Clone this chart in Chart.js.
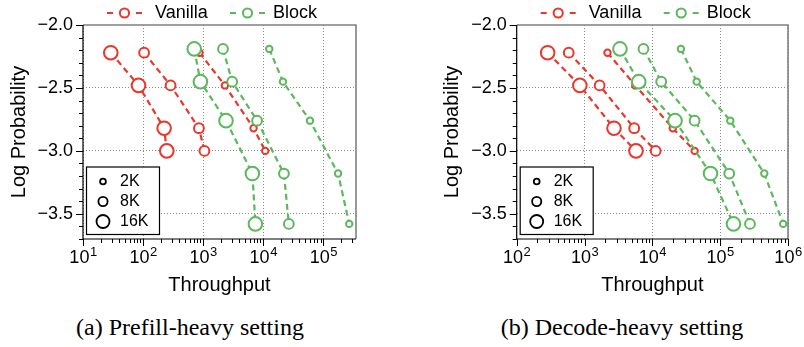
<!DOCTYPE html>
<html>
<head>
<meta charset="utf-8">
<script src="https://cdn.jsdelivr.net/npm/chart.js@4.4.1/dist/chart.umd.min.js"></script>
<style>
  body { margin: 0; background: #fff; }
  #wrap { position: relative; width: 804px; height: 347px; background: #fff; overflow: hidden; }
  canvas { position: absolute; top: 0; }
  .cap { position: absolute; top: 315px; font: 24px 'Liberation Serif', 'Times New Roman', serif; line-height: 24px; color: #000; white-space: nowrap; transform: translateX(-50%); }
</style>
</head>
<body>
<div id="wrap">
  <canvas id="prefill" width="400" height="300" style="left:0"></canvas>
  <canvas id="decode" width="404" height="300" style="left:400px"></canvas>
  <div class="cap" style="left:190px">(a) Prefill-heavy setting</div>
  <div class="cap" style="left:622px">(b) Decode-heavy setting</div>
</div>
<script>
// context sizes and series names
const sizeLabels = ['2K', '8K', '16K'];
const seriesNames = ['Vanilla', 'Block'];

// y values (log probability) shared by both panels
const vanillaLogProb = [-2.22, -2.48, -2.82, -3.0];
const blockLogProb = [-2.19, -2.45, -2.76, -3.18, -3.58];

// (a) prefill-heavy throughput
const prefillVanilla2K = [870, 2300, 6900, 10800];
const prefillVanilla8K = [104, 287, 850, 1050];
const prefillVanilla16K = [29, 84, 224, 248];
const prefillBlock2K = [12600, 21300, 60000, 176000, 270000];
const prefillBlock8K = [2140, 3040, 7900, 22100, 26700];
const prefillBlock16K = [710, 900, 2400, 6600, 7400];

// (b) decode-heavy throughput
const decodeVanilla2K = [2180, 5600, 20000, 42000];
const decodeVanilla8K = [585, 1670, 5400, 11200];
const decodeVanilla16K = [286, 853, 2720, 5740];
const decodeBlock2K = [26400, 45000, 141000, 447000, 850000];
const decodeBlock8K = [7400, 13500, 42000, 136000, 275000];
const decodeBlock16K = [3330, 6300, 21600, 72000, 157000];

const RED = '#e8372d';
const GREEN = '#5cb85c';
const RADII = [3.2, 4.9, 6.8];
const FONT = "'Liberation Sans', Arial, Helvetica, sans-serif";

const isDecade = v => Math.abs(Math.log10(v) - Math.round(Math.log10(v))) < 1e-9;
const isHalf = v => Math.abs(v * 2 - Math.round(v * 2)) < 1e-6;

function logTicks(min, max) {
  const out = [];
  for (let e = Math.floor(Math.log10(min)); e <= Math.ceil(Math.log10(max)); e++) {
    for (let k = 1; k < 10; k++) {
      const v = k * Math.pow(10, e);
      if (v >= min * 0.999 && v <= max * 1.001) out.push(v);
    }
  }
  return out;
}

function points(xs, ys) {
  return xs.map((x, i) => ({ x: x, y: ys[i] }));
}

function series(label, xs, ys, color, size, order) {
  return {
    label: label,
    data: points(xs, ys),
    showLine: true,
    borderColor: color,
    borderWidth: 2.2,
    borderDash: [6, 4],
    pointRadius: RADII[size],
    pointBorderWidth: 2,
    pointBorderColor: color,
    pointBackgroundColor: '#fff',
    fill: false,
    order: order
  };
}

const decor = {
  id: 'decor',
  afterDraw(chart) {
    const { ctx, chartArea: a, scales: { x, y } } = chart;
    ctx.save();

    // frame
    ctx.strokeStyle = '#808080';
    ctx.lineWidth = 1.6;
    ctx.beginPath();
    ctx.moveTo(a.left, a.top);
    ctx.lineTo(a.right, a.top);
    ctx.lineTo(a.right, a.bottom);
    ctx.stroke();
    ctx.strokeStyle = '#000';
    ctx.lineWidth = 1.2;
    ctx.beginPath();
    ctx.moveTo(a.left, a.top);
    ctx.lineTo(a.left, a.bottom);
    ctx.lineTo(a.right, a.bottom);
    ctx.stroke();

    // tick marks
    ctx.lineWidth = 1;
    x.ticks.forEach(t => {
      const px = Math.round(x.getPixelForValue(t.value)) + 0.5;
      const len = isDecade(t.value) ? 7 : 4;
      ctx.beginPath();
      ctx.moveTo(px, a.bottom);
      ctx.lineTo(px, a.bottom + len);
      ctx.stroke();
    });
    y.ticks.forEach(t => {
      const py = Math.round(y.getPixelForValue(t.value)) + 0.5;
      const len = isHalf(t.value) ? 7 : 4;
      ctx.beginPath();
      ctx.moveTo(a.left, py);
      ctx.lineTo(a.left - len, py);
      ctx.stroke();
    });

    // x labels 10^n
    ctx.fillStyle = '#000';
    ctx.textBaseline = 'alphabetic';
    ctx.textAlign = 'left';
    x.ticks.filter(t => isDecade(t.value)).forEach(t => {
      const px = x.getPixelForValue(t.value);
      const exp = String(Math.round(Math.log10(t.value)));
      ctx.font = '18px ' + FONT;
      const wb = ctx.measureText('10').width;
      ctx.font = '13px ' + FONT;
      const we = ctx.measureText(exp).width;
      const start = px - (wb + we) / 2;
      ctx.font = '18px ' + FONT;
      ctx.fillText('10', start, a.bottom + 24);
      ctx.font = '13px ' + FONT;
      ctx.fillText(exp, start + wb + 0.5, a.bottom + 17);
    });

    // top legend
    const legendY = 13;
    const items = [
      { name: seriesNames[0], color: RED, sx: 24, tx: 72 },
      { name: seriesNames[1], color: GREEN, sx: 147, tx: 190 }
    ];
    items.forEach(it => {
      const sx = a.left + it.sx;
      ctx.strokeStyle = it.color;
      ctx.lineWidth = 2.2;
      ctx.beginPath();
      ctx.moveTo(sx, legendY); ctx.lineTo(sx + 6, legendY);
      ctx.moveTo(sx + 29, legendY); ctx.lineTo(sx + 35, legendY);
      ctx.stroke();
      ctx.lineWidth = 2;
      ctx.fillStyle = '#fff';
      ctx.beginPath();
      ctx.arc(sx + 17.5, legendY, 4.6, 0, Math.PI * 2);
      ctx.fill();
      ctx.stroke();
      ctx.fillStyle = '#000';
      ctx.font = '18px ' + FONT;
      ctx.textBaseline = 'middle';
      ctx.fillText(it.name, a.left + it.tx, legendY + 0.5);
    });

    // size legend
    const bx = a.left + 3.5;
    const bb = a.bottom - 4.5;
    const bt = bb - 67.5;
    ctx.fillStyle = '#fff';
    ctx.fillRect(bx, bt, 73, 67.5);
    ctx.strokeStyle = '#000';
    ctx.lineWidth = 1.2;
    ctx.strokeRect(bx, bt, 73, 67.5);
    sizeLabels.forEach((lab, i) => {
      const cy = bt + 14.5 + i * 20;
      ctx.lineWidth = 1.8;
      ctx.beginPath();
      ctx.arc(a.left + 20, cy, RADII[i] - 0.3, 0, Math.PI * 2);
      ctx.stroke();
      ctx.fillStyle = '#000';
      ctx.font = '16px ' + FONT;
      ctx.textBaseline = 'middle';
      ctx.fillText(lab, a.left + 37, cy + 0.5);
    });

    ctx.restore();
  }
};

function buildChart(id, opts) {
  const datasets = [];
  opts.vanilla.forEach((xs, i) => datasets.push(series(seriesNames[0] + ' ' + sizeLabels[i], xs, vanillaLogProb, RED, i, 1)));
  opts.block.forEach((xs, i) => datasets.push(series(seriesNames[1] + ' ' + sizeLabels[i], xs, blockLogProb, GREEN, i, 0)));

  const xTicks = logTicks(opts.xMin, opts.xMax);

  return new Chart(document.getElementById(id).getContext('2d'), {
    type: 'scatter',
    data: { datasets: datasets },
    plugins: [decor],
    options: {
      responsive: false,
      animation: false,
      devicePixelRatio: 1,
      layout: { padding: { left: opts.padLeft, right: opts.padRight, top: 25, bottom: 0 } },
      plugins: { legend: { display: false }, tooltip: { enabled: false } },
      scales: {
        x: {
          type: 'logarithmic',
          min: opts.xMin,
          max: opts.xMax,
          afterBuildTicks: s => { s.ticks = xTicks.map(v => ({ value: v })); },
          afterFit: s => { s.height = 61; },
          ticks: { autoSkip: false, maxRotation: 0, callback: () => '' },
          grid: {
            color: c => (c.tick && isDecade(c.tick.value)) ? '#8a8a8a' : 'rgba(0,0,0,0)',
            lineWidth: 1,
            drawTicks: false
          },
          border: { display: false, dash: [1, 2] },
          title: { display: true, text: 'Throughput', color: '#000', font: { size: 20, family: FONT }, padding: { top: 0, bottom: 3 } }
        },
        y: {
          type: 'linear',
          min: -3.7,
          max: -2.0,
          afterFit: s => { s.width = 83; },
          ticks: {
            stepSize: 0.1,
            autoSkip: false,
            padding: 10,
            color: '#000',
            font: { size: 18, family: FONT },
            callback: v => isHalf(v) ? v.toFixed(1).replace('-', '\u2212') : ''
          },
          grid: {
            color: c => (c.tick && isHalf(c.tick.value) && c.tick.value < -2.05) ? '#8a8a8a' : 'rgba(0,0,0,0)',
            lineWidth: 1,
            drawTicks: false
          },
          border: { display: false, dash: [1, 2] },
          title: { display: true, text: 'Log Probability', color: '#000', font: { size: 20, family: FONT }, padding: { top: 7, bottom: 0 } }
        }
      }
    }
  });
}

buildChart('prefill', {
  xMin: 10, xMax: 3.5e5, padLeft: 0, padRight: 44,
  vanilla: [prefillVanilla2K, prefillVanilla8K, prefillVanilla16K],
  block: [prefillBlock2K, prefillBlock8K, prefillBlock16K]
});

buildChart('decode', {
  xMin: 100, xMax: 1e6, padLeft: 33.7, padRight: 16,
  vanilla: [decodeVanilla2K, decodeVanilla8K, decodeVanilla16K],
  block: [decodeBlock2K, decodeBlock8K, decodeBlock16K]
});
</script>
</body>
</html>
